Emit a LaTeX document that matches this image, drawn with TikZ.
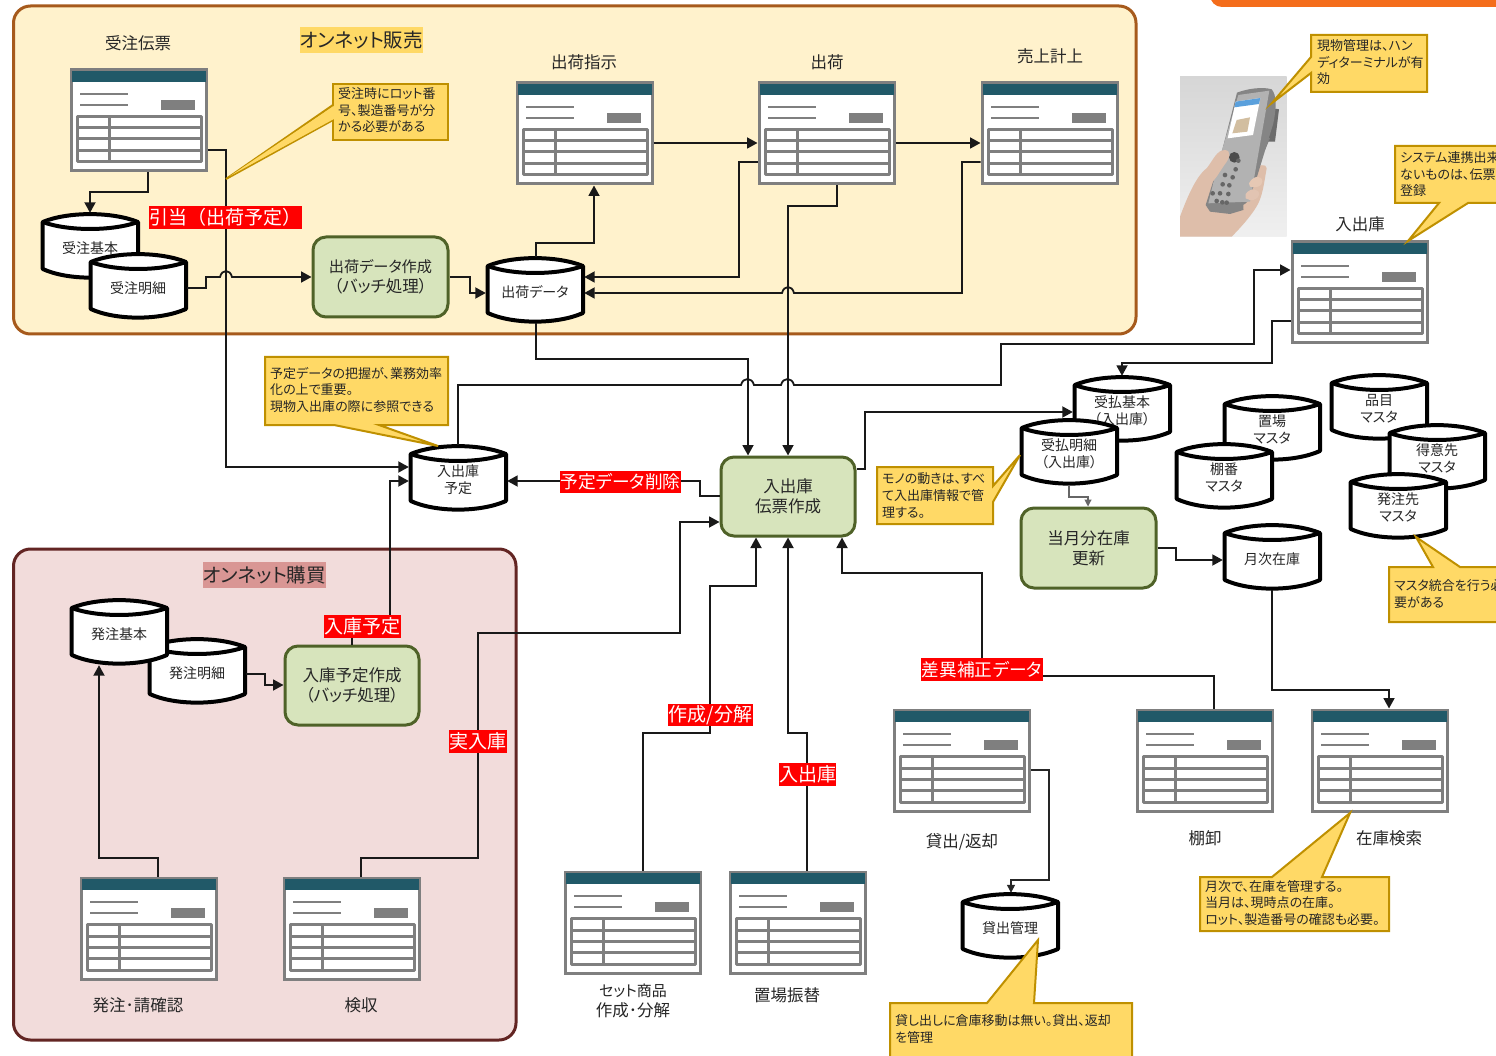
\documentclass[tikz,border=0pt]{standalone}
\usepackage{fontspec}
\setmainfont[RawFeature=+palt]{Noto Sans CJK JP}
\newfontfamily\fullwd{Noto Sans CJK JP}
\usetikzlibrary{arrows.meta,calc}
\definecolor{teal}{HTML}{215968}
\definecolor{fgrey}{HTML}{7F7F7F}
\definecolor{salesfill}{HTML}{FFF2CC}
\definecolor{salesline}{HTML}{A65A1C}
\definecolor{buyfill}{HTML}{F2DCDB}
\definecolor{buyline}{HTML}{632523}
\definecolor{boxfill}{HTML}{D7E4BC}
\definecolor{boxline}{HTML}{4F6228}
\definecolor{callfill}{HTML}{FFD966}
\definecolor{callline}{HTML}{BF9000}
\definecolor{ink}{HTML}{262626}
\definecolor{orangetop}{RGB}{244,109,27}
\definecolor{buyhead}{RGB}{217,150,148}
\definecolor{skinA}{RGB}{222,190,170}
\definecolor{skinB}{RGB}{230,200,180}
\definecolor{skinC}{RGB}{226,196,178}
\definecolor{scrblue}{RGB}{90,160,220}
\definecolor{scrpic}{RGB}{210,190,160}
\tikzset{
  x=1pt,y=-1pt,
  conn/.style={line width=1.8pt,draw=black!90,line join=miter},
  arr/.style={conn,-{Triangle[length=10.5pt,width=11pt]}},
  thin conn/.style={line width=1.1pt,draw=black!60,-{Triangle[length=7pt,width=7pt]}},
  formframe/.style={draw=fgrey,fill=white,line width=3pt,minimum width=135pt,minimum height=101pt,inner sep=0pt},
  dbnode/.style={minimum width=98pt,minimum height=66pt,inner sep=0pt,align=center,text=ink,font=\fontsize{14}{17}\selectfont},
  dbline/.style={line width=4pt,draw=black,fill=white,line join=round},
  boxnode/.style={draw=boxline,fill=boxfill,line width=3pt,rounded corners=13pt,inner sep=0pt,align=center,text=ink,font=\fontsize{16.5}{20}\selectfont},
  title/.style={inner sep=0pt,align=center,text=ink,font=\fontsize{16.5}{20}\selectfont},
  redtag/.style={fill=red,text=white,inner sep=0pt,align=center,font=\fontsize{19}{22}\selectfont},
  grouphead/.style={inner sep=0pt,text=ink,font=\fontsize{19.5}{24}\selectfont},
  callshape/.style={fill=callfill,draw=callline,line width=2pt,line join=miter},
  calltext/.style={inner sep=0pt,anchor=north west,align=left,text=ink,font=\fontsize{13}{16.6}\selectfont},
}
\newcommand{\formwin}[3]{%
  \node[formframe] (#1) at (#2+68.5,#3+51.5) {};
  \begin{scope}[shift={(#2,#3)}]
    \fill[teal] (1.5,2) rectangle (135.5,13);
    \draw[fgrey,line width=2pt] (10,25)--(58,25) (10,36)--(58,36);
    \fill[fgrey] (91,31) rectangle (125,41);
    \draw[fgrey,line width=3pt,line join=round] (7,47.5) rectangle (131,93);
    \draw[fgrey,line width=3pt] (7,59)--(131,59) (7,70)--(131,70) (7,81.5)--(131,81.5) (39.5,47.5)--(39.5,93);
  \end{scope}}
\newcommand{\dbcyl}[4]{%
  \begin{scope}[shift={(#2,#3)}]
    \draw[dbline] (1.7,9) .. controls (27,-1.5) and (71,-1.5) .. (97,9) -- (97,56)
       .. controls (71,67.5) and (27,67.5) .. (1.7,56) -- cycle;
    \draw[dbline] (1.7,9) .. controls (27,18.3) and (71,18.3) .. (97,9);
  \end{scope}
  \node[dbnode] (#1) at (#2+49,#3+33) {\raisebox{-7.5pt}[0pt][0pt]{\begin{tabular}{@{}c@{}}#4\end{tabular}}};}
\newcommand{\procbox}[6]{\node[boxnode,minimum width=#4-#2-2pt,minimum height=#5-#3-2pt] (#1) at ({(#2+#4)/2},{(#3+#5)/2}) {#6};}
\newcommand{\redlab}[6]{\node[redtag,minimum width=#4-#2,minimum height=#5-#3] (#1) at ({(#2+#4)/2},{(#3+#5)/2}) {#6};}
\begin{document}
\begin{tikzpicture}
\clip (0,0) rectangle (1496,1056);
\fill[white] (0,0) rectangle (1496,1056);
% groups
\fill[orangetop,rounded corners=12pt] (1210,-25) rectangle (1520,7);
\draw[salesline,fill=salesfill,line width=3pt,rounded corners=17pt] (13.5,6) rectangle (1136,334);
\draw[buyline,fill=buyfill,line width=3pt,rounded corners=17pt] (13.5,549) rectangle (516,1040);
\node[grouphead,fill=callfill,minimum width=123pt,minimum height=26pt] (hsales) at (361.5,40) {オンネット販売};
\node[grouphead,fill=buyhead,minimum width=123pt,minimum height=26pt] (hbuy) at (264.5,575) {オンネット購買};
% forms
\formwin{fJyuchu}{70}{69}
\formwin{fShiji}{516}{82}
\formwin{fShuka}{758}{82}
\formwin{fUriage}{981}{82}
\formwin{fNyushuko}{1291}{241}
\formwin{fKashi}{893}{709}
\formwin{fTana}{1136}{709}
\formwin{fZaiko}{1311}{709}
\formwin{fSet}{564}{871}
\formwin{fOkiba}{729}{871}
\formwin{fHachu}{80}{877}
\formwin{fKenshu}{283}{877}
% titles
\node[title] (t1) at (138,43) {受注伝票};
\node[title] (t2) at (584,62) {出荷指示};
\node[title] (t3) at (827,62) {出荷};
\node[title] (t4) at (1050,56) {売上計上};
\node[title] (t5) at (1360,224) {入出庫};
\node[title] (t6) at (962,842) {貸出/返却};
\node[title] (t7) at (1205,838) {棚卸};
\node[title] (t8) at (1389,838) {在庫検索};
\node[title] (t9) at (633,1001) {{\fontsize{15}{20}\selectfont セット商品}\\作成･分解};
\node[title] (t10) at (787,995) {置場振替};
\node[title] (t11) at (138,1005) {発注･請確認};
\node[title] (t12) at (361,1005) {検収};
% process boxes
\procbox{pShuka}{312}{236}{449}{318}{{\fontsize{15.2}{20}\selectfont 出荷データ作成}\\（バッチ処理）}
\procbox{pDen}{720}{456}{856}{537}{入出庫\\伝票作成}
\procbox{pTogetsu}{1020}{507}{1157}{589}{当月分在庫\\更新}
\procbox{pNyuko}{284}{645}{420}{726}{入庫予定作成\\（バッチ処理）}
% cylinders
\dbcyl{dJk}{41}{213}{受注基本}
\dbcyl{dJm}{89}{253}{受注明細}
\dbcyl{dSd}{486}{257}{出荷データ}
\dbcyl{dYo}{409}{445}{入出庫\\予定}
\dbcyl{dHm}{148}{638}{発注明細}
\dbcyl{dHk}{70}{599}{発注基本}
\dbcyl{dUk}{1073}{376}{受払基本\\（入出庫）}
\draw[arr] (pDen.east |- 0,469) -- (865,469) -- (865,412) -- (dUk.west |- 0,412);
\dbcyl{dUm}{1020}{419}{受払明細\\（入出庫）}
\dbcyl{dOk}{1223}{395}{置場\\マスタ}
\dbcyl{dTb}{1175}{443}{棚番\\マスタ}
\dbcyl{dHn}{1330}{374}{品目\\マスタ}
\dbcyl{dTk}{1388}{424}{得意先\\マスタ}
\dbcyl{dHs}{1349}{473}{発注先\\マスタ}
\dbcyl{dGz}{1223}{524}{月次在庫}
\dbcyl{dKs}{961}{893}{貸出管理}
% connectors
\draw[arr] (fJyuchu.east |- 0,150) -- (226,150) -- (226,467) -- (dYo.west |- 0,467);
\draw[arr] (fJyuchu.south -| 148,0) -- (148,192) -- (90,192) -- (dJk.north -| 90,0);
\draw[arr] (dJm.east |- 0,288) -- (206,288) -- (206,277) -- (220,277) .. controls (222,269) and (230,269) .. (232,277) -- (pShuka.west |- 0,277);
\draw[arr] (pShuka.east |- 0,277) -- (470,277) -- (470,293) -- (dSd.west |- 0,293);
\draw[arr] (dSd.north -| 536,0) -- (536,243) -- (594,243) -- (fShiji.south -| 594,0);
\draw[arr] (fShiji.east |- 0,143) -- (fShuka.west |- 0,143);
\draw[arr] (fShuka.east |- 0,143) -- (fUriage.west |- 0,143);
\draw[arr] (fShuka.west |- 0,162) -- (739,162) -- (739,277) -- (dSd.east |- 0,277);
\draw[arr] (fUriage.west |- 0,162) -- (962,162) -- (962,293) -- (794,293) .. controls (792,285) and (784,285) .. (782,293) -- (dSd.east |- 0,293);
\draw[arr] (fShuka.south -| 837,0) -- (837,206) -- (788,206) -- (pDen.north -| 788,0);
\draw[arr] (dSd.south -| 536,0) -- (536,359) -- (748,359) -- (pDen.north -| 748,0);
\draw[arr] (dYo.north -| 458,0) -- (458,385) -- (741,385) .. controls (743,377) and (752,377) .. (754,385) -- (781,385) .. controls (783,377) and (792,377) .. (794,385) -- (1001,385) -- (1001,344) -- (1254,344) -- (1254,270) -- (fNyushuko.west |- 0,270);
\draw[arr] (fNyushuko.west |- 0,321) -- (1272,321) -- (1272,363) -- (1122,363) -- (dUk.north -| 1122,0);
\draw[arr] (pDen.west |- 0,496) -- (700,496) -- (700,481) -- (dYo.east |- 0,481);
\draw[thin conn] (dUm.south -| 1069,0) -- (1069,497) -- (1088,497) -- (pTogetsu.north -| 1088,0);
\draw[arr] (pTogetsu.east |- 0,548) -- (1176,548) -- (1176,560) -- (dGz.west |- 0,560);
\draw[arr] (dGz.south -| 1272,0) -- (1272,690) -- (1389,690) -- (fZaiko.north -| 1389,0);
\draw[arr] (fTana.north -| 1214,0) -- (1214,676) -- (982,676) -- (982,573) -- (842,573) -- (pDen.south -| 842,0);
\draw[line width=1.2pt,draw=black!85,-{Triangle[length=8pt,width=8pt]}] (fKashi.east |- 0,770) -- (1049,770) -- (1049,880) -- (1011,880) -- (dKs.north -| 1011,0);
\draw[arr] (fSet.north -| 643,0) -- (643,733) -- (710,733) -- (710,586) -- (756,586) -- (pDen.south -| 756,0);
\draw[arr] (fOkiba.north -| 807,0) -- (807,733) -- (788,733) -- (pDen.south -| 788,0);
\draw[arr] (fKenshu.north -| 361,0) -- (361,858) -- (478,858) -- (478,633) -- (680,633) -- (680,522) -- (pDen.west |- 0,522);
\draw[arr] (fHachu.north -| 158,0) -- (158,858) -- (99,858) -- (dHk.south -| 99,0);
\draw[arr] (dHm.east |- 0,674) -- (265,674) -- (265,685) -- (pNyuko.west |- 0,685);
\draw[arr] (pNyuko.north -| 352,0) -- (352,630) -- (390,630) -- (390,481) -- (dYo.west |- 0,481);
% red labels
\redlab{l1}{149}{206}{302}{229}{\fullwd 引当（出荷予定）}
\redlab{l2}{560}{471}{681}{493}{\fontsize{17.7}{22}\selectfont 予定データ削除}
\redlab{l3}{324}{615}{401}{638}{入庫予定}
\redlab{l4}{449}{730}{507}{753}{実入庫}
\redlab{l5}{668}{704}{753}{726}{作成/分解}
\redlab{l6}{779}{763}{836}{786}{入出庫}
\redlab{l7}{921}{658}{1043}{681}{\fontsize{17.7}{22}\selectfont 差異補正データ}
% photo
\begin{scope}[shift={(1175,70)},x=0.3333pt,y=-0.3333pt]
  \shade[top color=black!16,bottom color=black!6] (15,20) rectangle (335,500);
  \fill[black!58] (272,110) -- (312,118) -- (300,215) -- (262,215) -- cycle;
  \fill[black!50] (255,195) -- (285,205) -- (270,240) -- (250,235) -- cycle;
  \fill[skinA] (15,440) .. controls (30,400) and (60,320) .. (95,295) .. controls (115,270) and (125,240) .. (150,240) .. controls (175,245) and (170,280) .. (160,310) -- (230,310) .. controls (250,280) and (275,280) .. (275,295) .. controls (270,320) and (265,370) .. (250,400) .. controls (235,430) and (200,470) .. (170,500) -- (15,500) -- cycle;
  \fill[black!48] (186,68) .. controls (220,55) and (265,50) .. (290,58) .. controls (305,75) and (305,110) .. (295,160) -- (240,340) -- (205,420) -- (165,432) -- (105,425) -- (92,405) -- (130,285) -- cycle;
  \fill[black!30] (190,75) -- (283,62) -- (225,395) -- (100,400) -- (128,285) -- cycle;
  \fill[white] (182,95) -- (256,84) -- (234,195) -- (158,205) -- cycle;
  \fill[scrblue] (182,95) -- (256,84) -- (252,102) -- (178,112) -- cycle;
  \fill[scrpic] (185,150) -- (225,142) -- (217,185) -- (172,190) -- cycle;
  \fill[black!70] (178,262) circle[radius=16];
  \foreach \px/\py in {190/272,182/298,173/322,163/346,150/315,143/343,135/370,160/372,125/393,142/397,155/398,113/370}
    \fill[black!60] (\px,\py) circle[radius=7];
  \fill[skinB] (222,340) .. controls (235,315) and (262,315) .. (262,335) .. controls (262,350) and (240,355) .. (225,350) -- cycle;
  \fill[skinC] (212,372) .. controls (225,352) and (256,355) .. (252,375) .. controls (250,390) and (225,395) .. (212,385) -- cycle;
  \fill[skinA] (205,405) .. controls (218,390) and (248,395) .. (240,412) .. controls (235,425) and (215,425) .. (205,418) -- cycle;
  \fill[skinA] (95,320) .. controls (120,270) and (130,240) .. (150,240) .. controls (170,242) and (165,265) .. (148,285) -- (125,320) -- (85,370) -- cycle;
\end{scope}
% callouts
\draw[callshape] (333,84) rectangle (448,140);
\draw[callshape] (333,105) -- (226,179) -- (333,120);
\fill[callfill] (333.9,106) -- (230,176) -- (333.9,119) -- cycle;
\node[calltext] (c1) at (338,87.5) {受注時にロット番\\号、製造番号が分\\かる必要がある};
\draw[callshape] (1311,35) -- (1427,35) -- (1427,92) -- (1311,92) -- (1311,73) -- (1272,103) -- (1311,57) -- cycle;
\node[calltext] (c2) at (1317,39.5) {現物管理は、ハン\\ディターミナルが有\\効};
\draw[callshape] (1395,146) -- (1530,146) -- (1530,203) -- (1468,203) -- (1408,241) -- (1439,203) -- (1395,203) -- cycle;
\node[calltext] (c3) at (1400,151.5) {システム連携出来\\ないものは、伝票\\登録};
\draw[callshape] (265,357) -- (448,357) -- (448,425) -- (379,425) -- (438,446) -- (334,425) -- (265,425) -- cycle;
\node[calltext] (c4) at (270,367) {予定データの把握が、業務効率\\化の上で重要。\\現物入出庫の際に参照できる};
\draw[callshape] (877,467) -- (993,467) -- (993,486) -- (1020,455) -- (993,502) -- (993,524) -- (877,524) -- cycle;
\node[calltext] (c5) at (882,473) {モノの動きは、すべ\\て入出庫情報で管\\理する。};
\draw[callshape] (1389,567) -- (1433,567) -- (1416,537) -- (1460,567) -- (1530,567) -- (1530,622) -- (1389,622) -- cycle;
\node[calltext] (c6) at (1394,579.5) {マスタ統合を行う必\\要がある};
\draw[callshape] (1200,877) -- (1272,877) -- (1350,813) -- (1322,877) -- (1389,877) -- (1389,931) -- (1200,931) -- cycle;
\node[calltext] (c7) at (1205,880) {月次で、在庫を管理する。\\当月は、現時点の在庫。\\ロット、製造番号の確認も必要。};
\draw[callshape] (890,1003) -- (987,1003) -- (1038,940) -- (1034,1003) -- (1132,1003) -- (1132,1075) -- (890,1075) -- cycle;
\node[calltext] (c8) at (895,1014.5) {貸し出しに倉庫移動は無い。貸出、返却\\を管理};
\end{tikzpicture}
\end{document}
